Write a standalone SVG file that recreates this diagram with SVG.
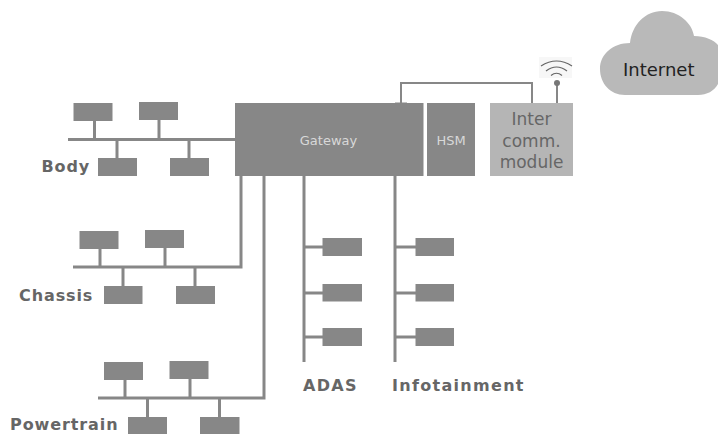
<svg xmlns="http://www.w3.org/2000/svg" width="718" height="434" viewBox="0 0 718 434">
<style>
.b{fill:#878787}
.c{fill:none;stroke:#878787;stroke-width:3}
.t{font-family:"DejaVu Sans",Verdana,sans-serif}
.l{font-size:16px;font-weight:bold;fill:#666;letter-spacing:.9px}
.s{letter-spacing:1.3px}
.w{font-size:13px;fill:#d8d8d8;text-anchor:middle}
.m{font-size:17px;fill:#666;text-anchor:middle}
</style>
<g id="connectors">
<path class="c" d="M68 139.500H235M94.500 121V139.500M159 120V139.500M117 139.500V158M189 139.500V158"/>
<path class="c" d="M73 267H241V176M100 248V267M165 248V267M123 267V286M195 267V286"/>
<path class="c" d="M98 398H264V176M125 380V398M190 379V398M147.500 398V417M219.500 398V417"/>
<path class="c" d="M304 176V362M304 247H323M304 293H323M304 337H323"/>
<path class="c" d="M395 176V362M395 247H416M395 293H416M395 337H416"/>
<path d="M401 103V83H532V103" fill="none" stroke="#878787" stroke-width="2"/>
<path d="M395 103H407" fill="none" stroke="#878787" stroke-width="1"/>
<path d="M557 103V83" fill="none" stroke="#878787" stroke-width="2"/>
</g>
<g id="gateway"><rect class="b" x="235" y="103" width="188.500" height="73"/><text class="t w" x="328.500" y="145">Gateway</text></g>
<g id="hsm"><rect class="b" x="427" y="103" width="48" height="73"/><text class="t w" x="451" y="145">HSM</text></g>
<g id="inter"><rect x="490" y="103" width="83" height="73" fill="#b5b5b5"/><text class="t m" x="531.500" y="125">Inter</text><text class="t m" x="531.500" y="147">comm.</text><text class="t m" x="531.500" y="168">module</text></g>
<g id="antenna"><rect x="539" y="57" width="33" height="21" fill="#f7f7f7"/><path d="M541 66Q556.500 56 572 66M546 71Q556.500 63 567 71M551 75.500Q556.500 71 562 75.500" fill="none" stroke="#666" stroke-width="1.200"/><circle cx="557" cy="83" r="3" fill="#777"/></g>
<g id="internet"><path d="M625 95C610 95 600 83 600 69C600 54 613 43 630 43C632 25 645 11 662 11C679 11 692 23 694 36C705 36 714 40 718 45V84C714 91 707 95 698 95Z" fill="#b9b9b9"/><text class="t" x="623" y="76" font-size="18" fill="#222">Internet</text></g>
<g id="body-ecus"><rect class="b" x="73.500" y="103" width="39" height="18"/><rect class="b" x="139" y="102" width="39" height="18"/><rect class="b" x="98" y="158" width="39" height="18"/><rect class="b" x="170" y="158" width="39" height="18"/><text class="t l" x="41.500" y="172">Body</text></g>
<g id="chassis-ecus"><rect class="b" x="79.500" y="231" width="39" height="18"/><rect class="b" x="145" y="230" width="39" height="18"/><rect class="b" x="104" y="286" width="38.500" height="18"/><rect class="b" x="176" y="286" width="39" height="18"/><text class="t l" x="19" y="301">Chassis</text></g>
<g id="powertrain-ecus"><rect class="b" x="104" y="362" width="39" height="18"/><rect class="b" x="169.500" y="361" width="39" height="18"/><rect class="b" x="128" y="417" width="39" height="17"/><rect class="b" x="200" y="417" width="39.500" height="17"/><text class="t l" x="10" y="430">Powertrain</text></g>
<g id="adas-ecus"><rect class="b" x="322.500" y="238" width="39.500" height="18"/><rect class="b" x="322.500" y="284" width="39.500" height="17.500"/><rect class="b" x="322.500" y="328" width="39.500" height="18"/><text class="t l s" x="303" y="391">ADAS</text></g>
<g id="infotainment-ecus"><rect class="b" x="415.500" y="238" width="38.500" height="18"/><rect class="b" x="415.500" y="284" width="38.500" height="17.500"/><rect class="b" x="415.500" y="328" width="38.500" height="18"/><text class="t l s" x="392" y="391">Infotainment</text></g>
</svg>
